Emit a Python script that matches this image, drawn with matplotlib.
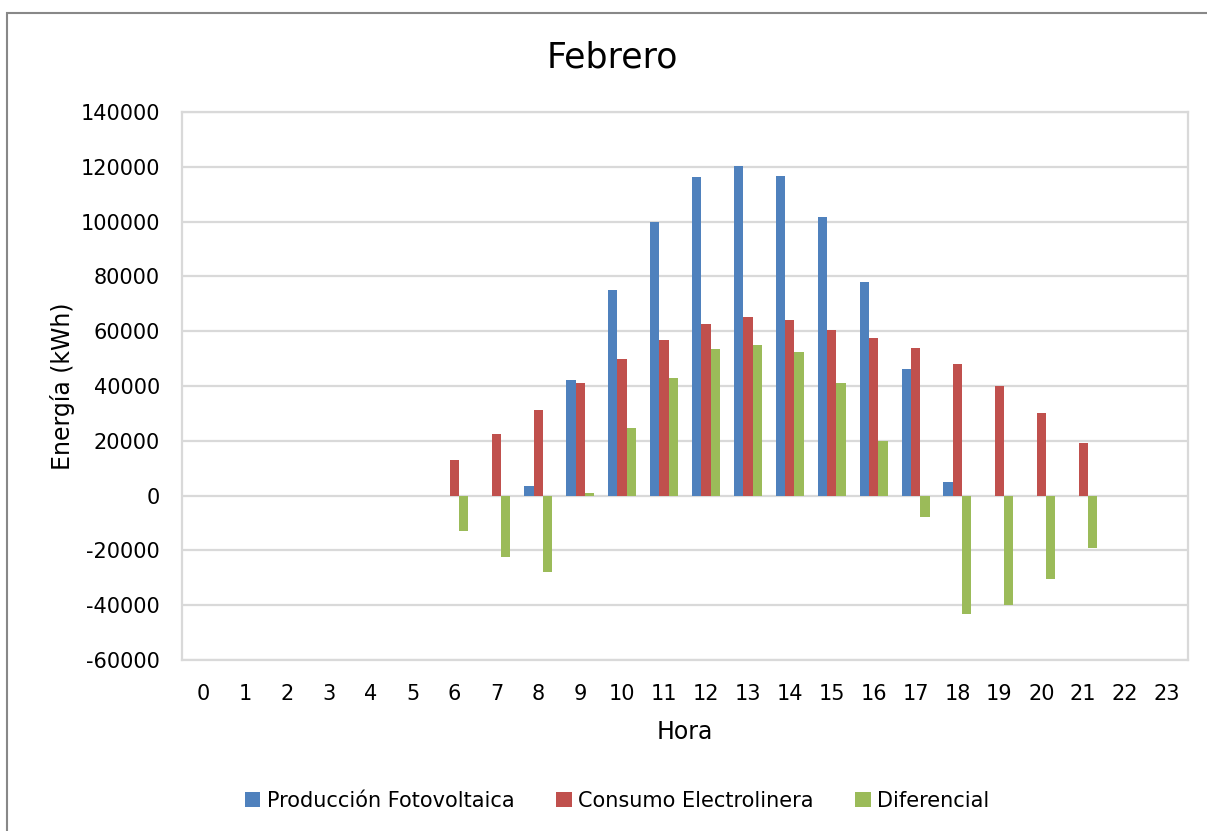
import numpy as np
import matplotlib.pyplot as plt
from matplotlib.patches import Rectangle

horas = list(range(24))
produccion = [0, 0, 0, 0, 0, 0, 0, 0, 3400, 42200, 75200, 99700, 116300, 120200,
              116500, 101700, 77800, 46100, 5100, 0, 0, 0, 0, 0]
consumo = [0, 0, 0, 0, 0, 0, 13000, 22500, 31400, 41100, 50000, 56800, 62800, 65300,
           64000, 60400, 57700, 53900, 48200, 39900, 30200, 19100, 0, 0]
diferencial = [0, 0, 0, 0, 0, 0, -13000, -22500, -28000, 1100, 24800, 42900, 53600, 54900,
               52500, 41200, 20000, -7900, -43200, -40100, -30300, -19300, 0, 0]

series = [("Producción Fotovoltaica", produccion, "#4F81BD"),
          ("Consumo Electrolinera", consumo, "#C0504D"),
          ("Diferencial", diferencial, "#9BBB59")]

plt.rcParams['font.family'] = ['DejaVu Sans']
plt.rcParams['axes.unicode_minus'] = False

fig = plt.figure(figsize=(12.07, 8.31), dpi=100)
ax = fig.add_axes([182 / 1207, 1 - 660 / 831, 1006 / 1207, 548 / 831])

# borde exterior del grafico
fig.patches.append(Rectangle((7 / 1207, -0.01), 1.2, 1 - 13 / 831 + 0.01,
                             transform=fig.transFigure, fill=False,
                             edgecolor="#888888", linewidth=1.5))

x = np.arange(len(horas))
w = 1 / 4.5
for i, (nombre, vals, color) in enumerate(series):
    ax.bar(x + (i - 1) * w, vals, width=w, color=color, label=nombre,
           edgecolor="none", zorder=3)

ax.set_xlim(-0.5, 23.5)
ax.set_ylim(-60000, 140000)
ax.set_yticks(np.arange(-60000, 140001, 20000))
ax.set_xticks(x)
ax.set_xticklabels([str(h) for h in horas])
ax.yaxis.grid(True, color="#D9D9D9", linewidth=1.6, zorder=0)
ax.tick_params(axis="both", length=0, labelsize=15)
ax.tick_params(axis="x", pad=17)
ax.tick_params(axis="y", pad=16)
for s in ax.spines.values():
    s.set_color("#D9D9D9")
    s.set_linewidth(1.6)

ax.set_xlabel("Hora", fontsize=17, labelpad=12)
ax.set_ylabel("Energía (kWh)", fontsize=17, labelpad=4)
fig.text(612 / 1207, 1 - 58 / 831, "Febrero", fontsize=25, ha="center", va="center")

ax.legend(loc="center", bbox_to_anchor=(617 / 1207, 1 - 801 / 831),
          bbox_transform=fig.transFigure, ncol=3, frameon=False, fontsize=15,
          handlelength=0.75, handleheight=0.75, handletextpad=0.3, columnspacing=2.0)

fig.savefig("out.png", dpi=100, facecolor="white")
